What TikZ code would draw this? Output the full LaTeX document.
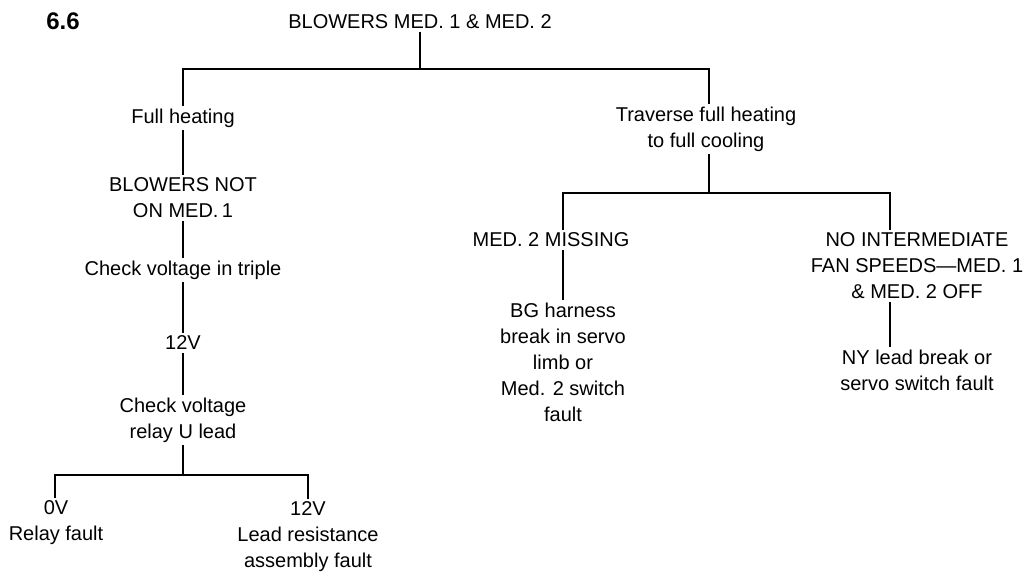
\documentclass[tikz,border=0pt]{standalone}
\usepackage{fontspec}
\setmainfont{Liberation Sans}
\begin{document}
\begin{tikzpicture}[x=0.5pt,y=-0.5pt,line width=0.9pt,
  txt/.style={align=center,inner sep=1pt,font=\fontsize{10}{13}\selectfont}]
\useasboundingbox (0,0) rectangle (1029,573);
\node[font=\fontsize{12}{14}\selectfont\bfseries] (fig) at (63,21) {6.6};
\node[txt] (top) at (420,22) {BLOWERS MED. 1 \& MED. 2};
% left branch
\node[txt] (heat) at (183,118) {Full heating};
\node[txt] (notmed) at (183,198) {BLOWERS NOT\\ON MED.\,1};
\node[txt] (triple) at (183,270) {Check voltage in triple};
\node[txt] (volt) at (183,343) {12V};
\node[txt] (relay) at (183,420) {Check voltage\\relay U lead};
\node[txt] (zero) at (56,523) {0V\\Relay fault};
\node[txt] (lead) at (308,537) {12V\\Lead resistance\\assembly fault};
% right branch
\node[txt] (trav) at (706,129) {Traverse full heating\\to full cooling};
\node[txt] (missing) at (551,240) {MED. 2 MISSING};
\node[txt] (bg) at (563,362) {BG harness\\break in servo\\limb or\\Med. 2 switch\\fault};
\node[txt] (nofan) at (917,266) {NO INTERMEDIATE\\FAN SPEEDS---MED. 1\\\& MED. 2 OFF};
\node[txt] (ny) at (917,370) {NY lead break or\\servo switch fault};
\coordinate (b1l) at (183,69);
\coordinate (b1r) at (709,69);
\coordinate (b2l) at (55,475);
\coordinate (b2r) at (308,475);
\coordinate (b3l) at (563,193);
\coordinate (b3r) at (890,193);
% bars
\draw (top.south) -- (top |- b1l);
\draw (b1l |- heat.north) -- (b1l) -- (b1r) -- (b1r |- trav.north);
\draw (heat.south) -- (notmed.north);
\draw (notmed) -- (triple);
\draw (triple) -- (volt);
\draw (volt) -- (relay);
\draw (relay.south) -- (relay |- b2l);
\draw (b2l |- zero.north) -- (b2l) -- (b2r) -- (b2r |- lead.north);
\draw (trav.south -| b1r) -- (b1r |- b3l);
\draw (b3l |- missing.north) -- (b3l) -- (b3r) -- (b3r |- nofan.north);
\draw (b3l |- missing.south) -- (b3l |- bg.north);
\draw (b3r |- nofan.south) -- (b3r |- ny.north);
\end{tikzpicture}
\end{document}
